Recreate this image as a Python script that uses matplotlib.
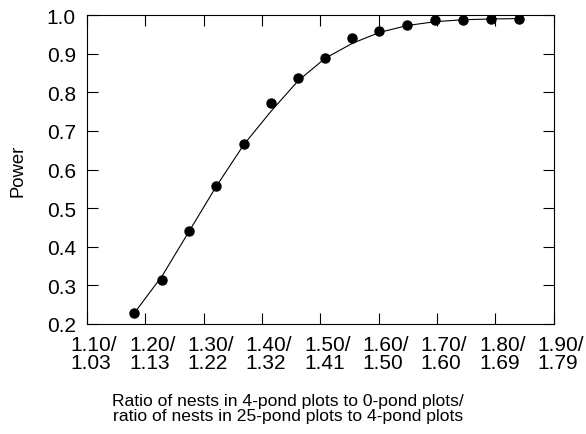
import matplotlib
matplotlib.use('Agg')
import matplotlib.pyplot as plt
import matplotlib.transforms as mtransforms

plt.rcParams['font.family'] = ['Liberation Sans', 'DejaVu Sans']

# simulated power at each effect size
ratio = [1.181, 1.229, 1.275, 1.321, 1.369, 1.416, 1.462, 1.508,
         1.555, 1.601, 1.649, 1.697, 1.745, 1.793, 1.841]
power = [0.228, 0.314, 0.441, 0.557, 0.666, 0.773, 0.837, 0.889,
         0.941, 0.959, 0.974, 0.988, 0.988, 0.989, 0.989]

# fitted curve
fit_x = [1.181, 1.229, 1.275, 1.321, 1.369, 1.416, 1.462, 1.508,
         1.555, 1.601, 1.649, 1.697, 1.745, 1.793, 1.841]
fit_y = [0.228, 0.325, 0.440, 0.555, 0.665, 0.752, 0.830, 0.888,
         0.927, 0.955, 0.973, 0.983, 0.988, 0.990, 0.991]

tick_pos = [1.1, 1.2, 1.3, 1.4, 1.5, 1.6, 1.7, 1.8, 1.9]
tick_top = ['1.10/', '1.20/', '1.30/', '1.40/', '1.50/', '1.60/', '1.70/', '1.80/', '1.90/']
tick_bot = ['1.03', '1.13', '1.22', '1.32', '1.41', '1.50', '1.60', '1.69', '1.79']

fig = plt.figure(figsize=(5.86, 4.35), dpi=100)
ax = fig.add_axes([0.1485, 0.253, 0.7965, 0.71])

ax.plot(fit_x, fit_y, color='black', lw=0.8, zorder=2)
ax.plot(ratio, power, 'o', color='black', ms=6.5, zorder=3)

ax.set_xlim(1.1, 1.9)
ax.set_ylim(0.2, 1.0)
ax.set_xticks(tick_pos)
ax.set_xticklabels([t + '\n' + b for t, b in zip(tick_top, tick_bot)],
                   multialignment='left', linespacing=0.95)
ax.set_yticks([0.2, 0.3, 0.4, 0.5, 0.6, 0.7, 0.8, 0.9, 1.0])
ax.set_yticklabels(['0.2', '0.3', '0.4', '0.5', '0.6', '0.7', '0.8', '0.9', '1.0'])

ax.tick_params(direction='in', length=8, width=0.8, top=True, right=True,
               labelsize=15)
ax.tick_params(axis='x', pad=8)
ax.tick_params(axis='y', pad=8)

offset = mtransforms.ScaledTranslation(7 / 100, 0, fig.dpi_scale_trans)
for lbl in ax.get_xticklabels():
    lbl.set_transform(lbl.get_transform() + offset)

for s in ax.spines.values():
    s.set_linewidth(0.8)

ax.set_ylabel('Power', fontsize=13.3)
ax.yaxis.set_label_coords(-0.13, 0.5)
ax.set_xlabel('Ratio of nests in 4-pond plots to 0-pond plots/\n'
              'ratio of nests in 25-pond plots to 4-pond plots',
              fontsize=12.6, linespacing=1.0)
ax.xaxis.set_label_coords(0.43, -0.225)

fig.savefig('out.png', dpi=100)
